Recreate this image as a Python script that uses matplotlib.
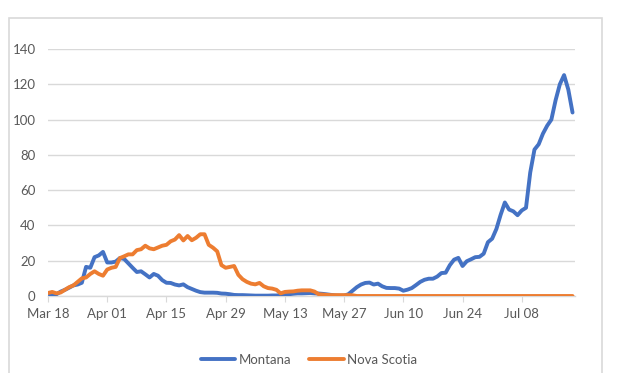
import matplotlib
matplotlib.use("Agg")
import matplotlib.pyplot as plt
import matplotlib.dates as mdates
from matplotlib.patches import Rectangle
import pandas as pd

# daily values, Mar 18 .. Jul 20
dates = pd.date_range("2020-03-18", periods=125, freq="D")

montana = [1.3, 0.5, 1, 2.5, 3.5, 4.7, 6, 6.5, 7.5, 16.5,
           16, 22, 23, 25, 19, 19, 19.5, 21.5, 21, 18.5,
           16, 13.6, 14, 12.3, 10.5, 12.5, 11.5, 9, 7.5, 7.4,
           6.5, 6, 6.6, 5, 4, 3, 2.2, 1.9, 1.9, 1.9,
           1.8, 1.4, 1.3, 1, 0.6, 0.5, 0.5, 0.4, 0.3, 0.2,
           0.2, 0.2, 0.2, 0.3, 0.3, 0.5, 0.7, 1, 1.3, 1.5,
           1.5, 1.6, 1.7, 1.5, 1.4, 1.2, 0.9, 0.6, 0.3, 0.2,
           0.2, 1, 3, 5, 6.5, 7.4, 7.6, 6.5, 7, 5.5,
           4.6, 4.5, 4.5, 4.2, 3, 3.6, 4.5, 6.2, 8, 9.2,
           9.8, 9.8, 11, 13, 13.2, 17.5, 20.6, 21.6, 17, 19.7,
           20.8, 22, 22.2, 24, 30.5, 32.5, 38, 46, 53, 49,
           48, 45.8, 48.5, 50, 70, 83, 86, 92, 96.5, 100,
           111, 120, 125.2, 117, 104]

nova_scotia = [1.7, 2.3, 1.5, 2, 3.5, 5, 6, 8, 10, 10.5,
               12.5, 14, 12.5, 11.5, 15, 16, 16.5, 21.5, 22.5, 23.6,
               23.6, 26, 26.5, 28.5, 27, 26.5, 27.5, 28.5, 29, 31,
               32, 34.5, 31.5, 34, 31.6, 33, 35, 35, 29, 27.4,
               25.3, 17.5, 16, 16.5, 17, 12, 9.5, 8, 7, 6.6,
               7.4, 5.5, 4.5, 4.2, 3.5, 1.5, 2.3, 2.5, 2.6, 3,
               3.2, 3.2, 3.2, 2.5, 1, 0.8, 0.6, 0.5, 0.5, 0.5,
               0.5, 0.5, 0.4] + [0] * 52

plt.rcParams['font.family'] = ['Lato', 'DejaVu Sans']
txt = "#595959"
grid = "#d9d9d9"

fig = plt.figure(figsize=(6.25, 3.73), dpi=100)
ax = fig.add_axes([48/625, 1 - 296/373, (575 - 48)/625, (296 - 49)/373])

ax.plot(dates, montana, color="#4472C4", lw=2.8, label="Montana",
        solid_joinstyle="round", solid_capstyle="round", zorder=3)
ax.plot(dates, nova_scotia, color="#ED7D31", lw=2.8, label="Nova Scotia",
        solid_joinstyle="round", solid_capstyle="round", zorder=3)

ax.set_ylim(0, 140)
ax.set_yticks(range(0, 141, 20))
ax.set_xlim(dates[0], dates[-1] + pd.Timedelta(hours=14))
ax.set_xticks(dates[::14][:9])
ax.xaxis.set_major_formatter(mdates.DateFormatter("%b %d"))

ax.grid(axis="y", color=grid, lw=1)
ax.set_axisbelow(True)
for s in ["top", "right", "left"]:
    ax.spines[s].set_visible(False)
ax.spines["bottom"].set_color(grid)
ax.spines["bottom"].set_linewidth(1)
ax.tick_params(axis="y", length=0, pad=9, labelsize=9.5, labelcolor=txt)
ax.tick_params(axis="x", length=4, color=grid, pad=5, labelsize=9.5, labelcolor=txt)

fig.legend(loc="center", bbox_to_anchor=(309/625, 1 - 360/373), ncol=2,
           frameon=False, fontsize=9.5, labelcolor=txt, handlelength=2.6,
           handletextpad=0.25, columnspacing=1.4)

fig.patches.append(Rectangle((9/625, -0.1), (602 - 9)/625, 1.1 - 18/373,
                             transform=fig.transFigure, fill=False,
                             edgecolor=grid, lw=1.2))

fig.savefig("out.png", dpi=100)
